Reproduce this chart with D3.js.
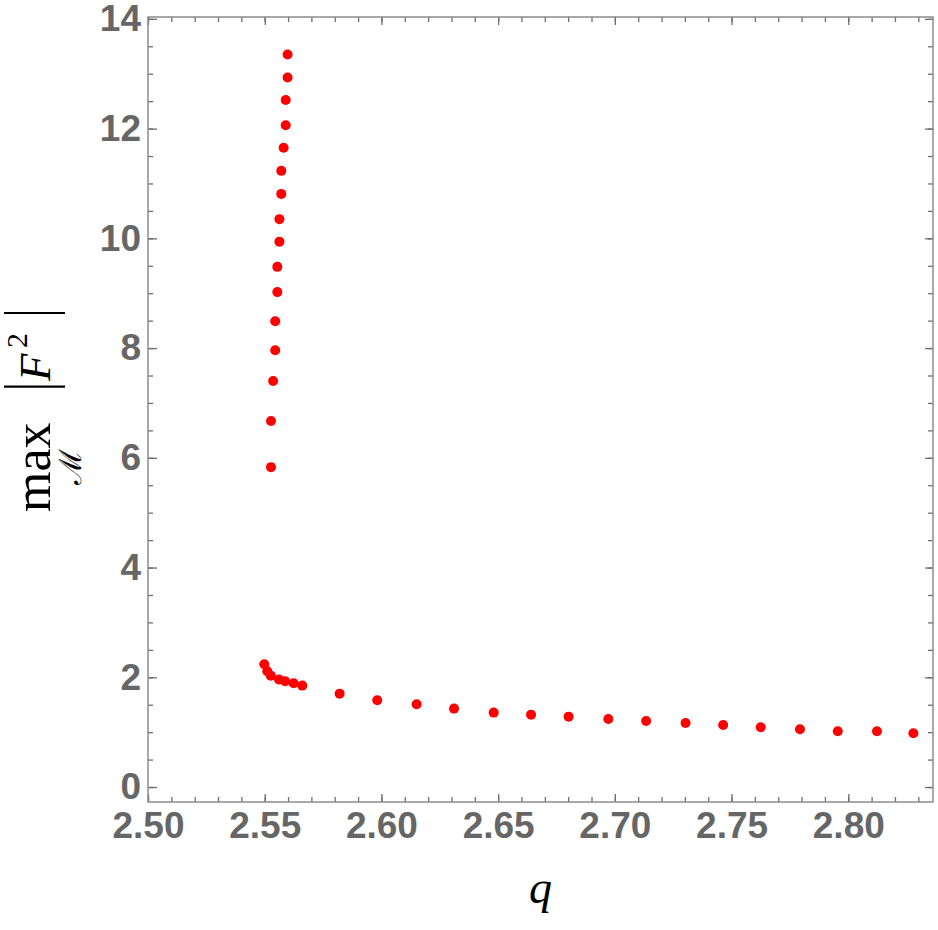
<!DOCTYPE html>
<html>
<head>
<meta charset="utf-8">
<title>max |F^2| vs q</title>
<style>
  body { margin: 0; background: #fff; }
</style>
</head>
<body>
<script src="https://cdn.jsdelivr.net/npm/d3@7/dist/d3.min.js"></script>
<script>
// upper branch (steep rise just above q = 2.55)
var upperQ = [2.5527, 2.5527, 2.5536, 2.5545, 2.5545, 2.5554, 2.5554, 2.5563,
              2.5563, 2.5571, 2.5571, 2.5581, 2.5590, 2.5590, 2.5598, 2.5598];
var upperF = [5.83, 6.67, 7.40, 7.96, 8.49, 9.02, 9.48, 9.94,
              10.35, 10.81, 11.23, 11.65, 12.06, 12.52, 12.93, 13.35];

// lower branch (slow decay)
var lowerQ = [2.5498, 2.5511, 2.5526, 2.5561, 2.5587, 2.5624, 2.5661, 2.5821,
              2.5982, 2.6151, 2.6311, 2.6481, 2.6641, 2.6802, 2.6972, 2.7134,
              2.7303, 2.7464, 2.7625, 2.7793, 2.7955, 2.8123, 2.8279];
var lowerF = [2.236, 2.11, 2.03, 1.96, 1.93, 1.89, 1.848, 1.702,
              1.580, 1.507, 1.429, 1.356, 1.319, 1.283, 1.239, 1.203,
              1.166, 1.130, 1.088, 1.052, 1.015, 1.015, 0.979];

var xTicks = [2.50, 2.55, 2.60, 2.65, 2.70, 2.75, 2.80];
var yTicks = [0, 2, 4, 6, 8, 10, 12, 14];

var width = 938, height = 930;
// plot frame (note: "top" is taken by window.top, so prefix these)
var pLeft = 148, pTop = 17, pRight = 933, pBottom = 802;

var svg = d3.select("body")
    .append("svg")
    .attr("width", width)
    .attr("height", height);

var x = d3.scaleLinear().domain([2.5, 2.8363]).range([pLeft, pRight]);
var y = d3.scaleLinear().domain([-0.273, 14.034]).range([pBottom, pTop]);

var xMinor = d3.range(250, 284).map(d => d / 100);
var yMinor = d3.range(0, 29).map(d => d / 2);

var tickColor = "#6e6e6e";
var labelFont = "'Liberation Sans', Arial, Helvetica, sans-serif";

function styleAxis(g) {
    g.select(".domain").remove();
    g.selectAll(".tick line").attr("stroke", tickColor).attr("stroke-width", 1.3);
    g.selectAll(".tick text")
        .attr("fill", "#666")
        .attr("font-family", labelFont)
        .attr("font-weight", "bold")
        .attr("font-size", 37);
}

// minor ticks on all four sides
svg.append("g").attr("transform", "translate(0," + pBottom + ")")
    .call(d3.axisBottom(x).tickValues(xMinor).tickSizeInner(-5).tickSizeOuter(0).tickFormat(""))
    .call(styleAxis);
svg.append("g").attr("transform", "translate(0," + pTop + ")")
    .call(d3.axisTop(x).tickValues(xMinor).tickSizeInner(-5).tickSizeOuter(0).tickFormat(""))
    .call(styleAxis);
svg.append("g").attr("transform", "translate(" + pLeft + ",0)")
    .call(d3.axisLeft(y).tickValues(yMinor).tickSizeInner(-5).tickSizeOuter(0).tickFormat(""))
    .call(styleAxis);
svg.append("g").attr("transform", "translate(" + pRight + ",0)")
    .call(d3.axisRight(y).tickValues(yMinor).tickSizeInner(-5).tickSizeOuter(0).tickFormat(""))
    .call(styleAxis);

// major ticks + labels
svg.append("g").attr("transform", "translate(0," + pBottom + ")")
    .call(d3.axisBottom(x).tickValues(xTicks).tickSizeInner(-8).tickSizeOuter(0)
        .tickPadding(10).tickFormat(d3.format(".2f")))
    .call(styleAxis);
svg.append("g").attr("transform", "translate(" + pLeft + ",0)")
    .call(d3.axisLeft(y).tickValues(yTicks).tickSizeInner(-9).tickSizeOuter(0)
        .tickPadding(7).tickFormat(d3.format("d")))
    .call(styleAxis);
svg.append("g").attr("transform", "translate(0," + pTop + ")")
    .call(d3.axisTop(x).tickValues(xTicks).tickSizeInner(-8).tickSizeOuter(0).tickFormat(""))
    .call(styleAxis);
svg.append("g").attr("transform", "translate(" + pRight + ",0)")
    .call(d3.axisRight(y).tickValues(yTicks).tickSizeInner(-8).tickSizeOuter(0).tickFormat(""))
    .call(styleAxis);

// frame
svg.append("rect")
    .attr("x", pLeft).attr("y", pTop)
    .attr("width", pRight - pLeft).attr("height", pBottom - pTop)
    .attr("fill", "none")
    .attr("stroke", "#8c8c8c")
    .attr("stroke-width", 1.5);

// points
var pts = upperQ.map((q, i) => [q, upperF[i]])
    .concat(lowerQ.map((q, i) => [q, lowerF[i]]));

svg.append("g")
    .selectAll("circle")
    .data(pts)
    .join("circle")
    .attr("cx", d => x(d[0]))
    .attr("cy", d => y(d[1]))
    .attr("r", 5)
    .attr("fill", "#ff0000");

// x label
var serif = "'Liberation Serif', 'Times New Roman', serif";
svg.append("text")
    .attr("x", (pLeft + pRight) / 2)
    .attr("y", 903)
    .attr("text-anchor", "middle")
    .attr("font-family", serif)
    .attr("font-style", "italic")
    .attr("font-size", 46)
    .text("q");

// y label: max over M of |F^2|, rotated
var yl = svg.append("g").attr("transform", "rotate(-90)");
yl.append("text")
    .attr("x", -512).attr("y", 50)
    .attr("font-family", serif)
    .attr("font-size", 52)
    .text("max");
yl.append("text")
    .attr("x", -467).attr("y", 81)
    .attr("text-anchor", "middle")
    .attr("font-family", "'DejaVu Serif', serif")
    .attr("font-size", 31)
    .text("ℳ");
yl.append("text")
    .attr("x", -381).attr("y", 50)
    .attr("font-family", serif)
    .attr("font-style", "italic")
    .attr("font-size", 45)
    .text("F");
yl.append("text")
    .attr("x", -348).attr("y", 27)
    .attr("font-family", serif)
    .attr("font-size", 30)
    .text("2");
[-386.7, -313].forEach(function(u) {
    yl.append("line")
        .attr("x1", u).attr("x2", u)
        .attr("y1", 4).attr("y2", 65)
        .attr("stroke", "#000")
        .attr("stroke-width", 2.2);
});
</script>
</body>
</html>
